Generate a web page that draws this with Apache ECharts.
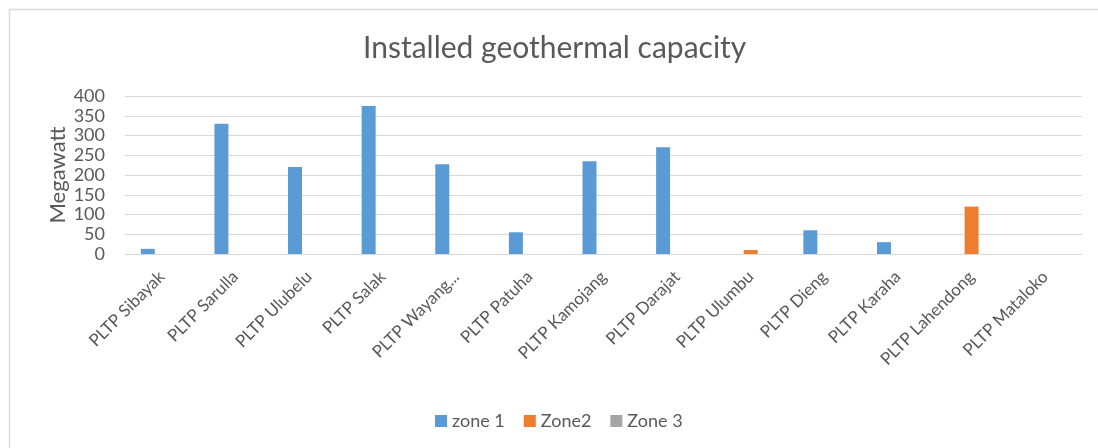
<!DOCTYPE html>
<html>
<head>
<meta charset="utf-8">
<script src="https://cdn.jsdelivr.net/npm/echarts@6/dist/echarts.min.js"></script>
<style>
  html, body { margin: 0; padding: 0; background: #fff; }
  #chart { width: 1098px; height: 448px; }
</style>
</head>
<body>
<div id="chart"></div>
<script>
// Geothermal power plants (PLTP) and their installed capacity in MW, per zone
const categories = [
  'PLTP Sibayak', 'PLTP Sarulla', 'PLTP Ulubelu', 'PLTP Salak', 'PLTP Wayang...',
  'PLTP Patuha', 'PLTP Kamojang', 'PLTP Darajat', 'PLTP Ulumbu', 'PLTP Dieng',
  'PLTP Karaha', 'PLTP Lahendong', 'PLTP Mataloko'
];
const zone1 = [13, 330, 220, 375, 227, 55, 235, 270, null, 60, 30, null, null];
const zone2 = [null, null, null, null, null, null, null, null, 10, null, null, 120, null];
const zone3 = [null, null, null, null, null, null, null, null, null, null, null, null, null];
const seriesNames = ['zone 1', 'Zone2', 'Zone 3'];
const yTicks = [0, 50, 100, 150, 200, 250, 300, 350, 400];

const FONT = 'Lato, "Open Sans", sans-serif';
const TEXT = '#595959';
const colors = ['#5B9BD5', '#ED7D31', '#A5A5A5'];

const chart = echarts.init(document.getElementById('chart'), null, { renderer: 'canvas' });

chart.setOption({
  animation: false,
  backgroundColor: '#ffffff',
  color: colors,
  textStyle: { fontFamily: FONT, color: TEXT },
  title: {
    text: 'Installed geothermal capacity',
    left: 363,
    top: 33,
    padding: 0,
    textStyle: { fontFamily: FONT, fontSize: 30, fontWeight: 'normal', color: TEXT }
  },
  legend: {
    bottom: 13,
    left: 430,
    itemWidth: 12,
    itemHeight: 12,
    itemGap: 19,
    icon: 'rect',
    textStyle: { fontFamily: FONT, fontSize: 18, color: TEXT },
    data: seriesNames
  },
  grid: { left: 125, right: 16, top: 96, bottom: 194, containLabel: false },
  xAxis: {
    type: 'category',
    data: categories,
    axisTick: { show: false },
    axisLine: { lineStyle: { color: '#D9D9D9', width: 1 } },
    axisLabel: {
      rotate: 45,
      interval: 0,
      margin: 20,
      fontFamily: FONT,
      fontSize: 17,
      color: TEXT
    }
  },
  yAxis: {
    type: 'value',
    min: yTicks[0],
    max: yTicks[yTicks.length - 1],
    interval: 50,
    name: 'Megawatt',
    nameLocation: 'middle',
    nameGap: 56,
    nameMoveOverlap: false,
    nameTextStyle: { fontFamily: FONT, fontSize: 22, color: TEXT },
    axisLine: { show: false },
    axisTick: { show: false },
    axisLabel: { fontFamily: FONT, fontSize: 18, color: TEXT, margin: 20 },
    splitLine: { lineStyle: { color: '#D9D9D9', width: 1 } }
  },
  series: [
    { name: seriesNames[0], type: 'bar', data: zone1, barWidth: 14, barGap: '0%' },
    { name: seriesNames[1], type: 'bar', data: zone2, barWidth: 14, barGap: '0%' },
    { name: seriesNames[2], type: 'bar', data: zone3, barWidth: 14, barGap: '0%' }
  ],
  graphic: [
    {
      type: 'polyline',
      shape: { points: [[9.5, 448], [9.5, 9.5], [1098, 9.5]] },
      style: { stroke: '#D9D9D9', lineWidth: 1.5, fill: null },
      silent: true
    }
  ]
});
</script>
</body>
</html>
